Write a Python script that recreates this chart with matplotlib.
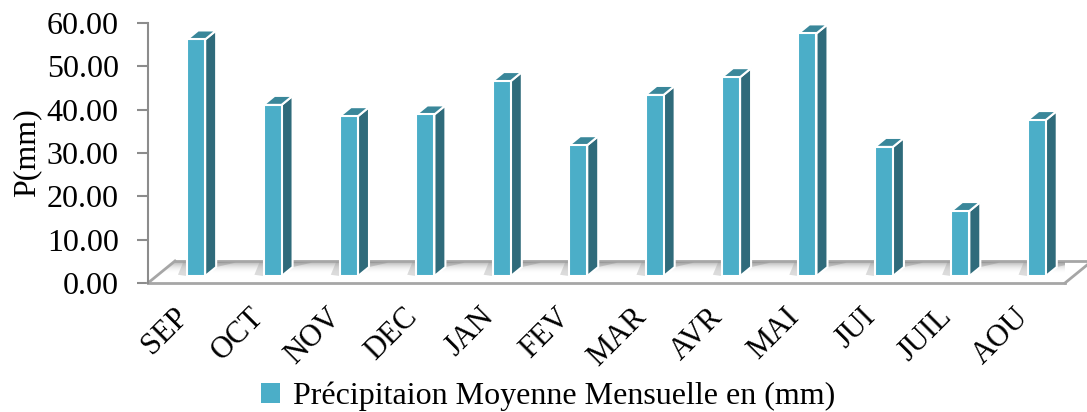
import numpy as np
import matplotlib.pyplot as plt
import matplotlib.transforms as mtransforms
from matplotlib.patches import Polygon, Patch

plt.rcParams['font.family'] = ['Liberation Serif', 'DejaVu Serif']

# mean monthly rainfall (mm), hydrological year Sep -> Aug
mois = ["SEP", "OCT", "NOV", "DEC", "JAN", "FEV", "MAR", "AVR", "MAI", "JUI", "JUIL", "AOU"]
pluie = [54.6, 39.5, 36.9, 37.3, 45.0, 30.2, 41.8, 45.9, 56.0, 29.8, 15.0, 36.0]
yticks = [0, 10, 20, 30, 40, 50, 60]

c_front = "#4BAEC8"
c_side = "#2F6B7B"
c_top = "#3A879A"
c_edge = "#A6A6A6"

fig = plt.figure(figsize=(10.87, 4.12), dpi=100)
ax = fig.add_axes([148 / 1087, 1 - 283 / 412, 917 / 1087, 260 / 412])
n = len(mois)
ax.set_xlim(-0.5, n - 0.5)
ax.set_ylim(0, 60)

# floor depth (x in slots, y in mm units)
fdx, fdy = 0.353, 5.08
floor = Polygon([(-0.5, 0), (n - 0.5, 0), (n - 0.5 + fdx, fdy), (-0.5 + fdx, fdy)],
                closed=True, facecolor="white", edgecolor="none", clip_on=False, zorder=1)
ax.add_patch(floor)

# soft shadow on the floor, darkest just under the back edge
grad = np.clip((np.linspace(0, 1, 80) - 0.4) / 0.6, 0, 1) ** 2
shade = np.zeros((80, 1, 4))
shade[..., :3] = 0.45
shade[:, 0, 3] = grad * 0.7
im = ax.imshow(shade, extent=(-0.5, n - 0.5 + fdx, 0, fdy), origin="lower",
               aspect="auto", zorder=1.5, interpolation="bilinear")
im.set_clip_on(True)
im.set_clip_path(floor.get_path(), ax.transData)

ax.plot([-0.5 + fdx, n - 0.5 + fdx], [fdy, fdy], color=c_edge, lw=2, zorder=1.6, clip_on=False)
ax.plot([-0.5, -0.5 + fdx], [0, fdy], color=c_edge, lw=2, zorder=1.6, clip_on=False)
ax.plot([n - 0.5, n - 0.5 + fdx], [0, fdy], color=c_edge, lw=2, zorder=1.6, clip_on=False)

# 3D looking columns: front face from ax.bar, side and top as polygons
x = np.arange(n)
shift, w, base = 0.13, 0.236, 1.6
ddx, ddy = 0.144, 2.08
ax.bar(x + shift, pluie, width=w, bottom=base, color=c_front,
       edgecolor="white", linewidth=1.5, zorder=3)
for xi, v in zip(x, pluie):
    x0 = xi + shift - w / 2
    x1 = x0 + w
    yt = base + v
    side = [(x1, base), (x1 + ddx, base + ddy), (x1 + ddx, yt + ddy), (x1, yt)]
    top = [(x0, yt), (x1, yt), (x1 + ddx, yt + ddy), (x0 + ddx, yt + ddy)]
    ax.add_patch(Polygon(side, closed=True, facecolor=c_side, edgecolor="white",
                         lw=1.5, zorder=2.9))
    ax.add_patch(Polygon(top, closed=True, facecolor=c_top, edgecolor="white",
                         lw=1.5, zorder=2.9))
    # faint shadow to the left of each column base
    ax.add_patch(Polygon([(x0 - 0.12, base + 0.3), (x0, base), (x0, base + ddy + 1.2),
                          (x0 - 0.05, base + ddy + 1.2)],
                         closed=True, facecolor="0.6", edgecolor="none", alpha=0.35, zorder=1.8))
    # cast shadow behind the side face, fading to the right
    ax.add_patch(Polygon([(x1 + ddx, base + ddy), (x1 + ddx + 0.25, fdy - 0.4),
                          (x1 + ddx, fdy - 0.2)],
                         closed=True, facecolor="0.45", edgecolor="none", alpha=0.3, zorder=1.8))

for s in ["top", "right"]:
    ax.spines[s].set_visible(False)
ax.spines["left"].set_color("#8C8C8C")
ax.spines["left"].set_linewidth(1.5)
ax.spines["bottom"].set_color(c_edge)
ax.spines["bottom"].set_linewidth(2)
ax.spines["bottom"].set_zorder(1.7)

ax.set_yticks(yticks)
ax.set_yticklabels([f"{t:.2f}" for t in yticks], fontsize=23)
ax.tick_params(axis="y", length=8, width=1.5, color="#8C8C8C", pad=13)
ax.set_xticks(x)
ax.set_xticklabels(mois, fontsize=22, rotation=45, ha="right", rotation_mode="anchor")
ax.tick_params(axis="x", length=0, pad=14)
nudge = mtransforms.ScaledTranslation(-13 / 100, 0, fig.dpi_scale_trans)
for lab in ax.get_xticklabels():
    lab.set_transform(lab.get_transform() + nudge)
ax.set_ylabel("P(mm)", fontsize=23, labelpad=4)

fig.legend(handles=[Patch(facecolor=c_front, edgecolor="none")],
           labels=["Précipitaion Moyenne Mensuelle en (mm)"],
           loc="lower center", bbox_to_anchor=(0.504, -0.068), frameon=False,
           fontsize=23, handlelength=0.6, handleheight=0.6, handletextpad=0.4)

fig.savefig("out.png", dpi=100)
